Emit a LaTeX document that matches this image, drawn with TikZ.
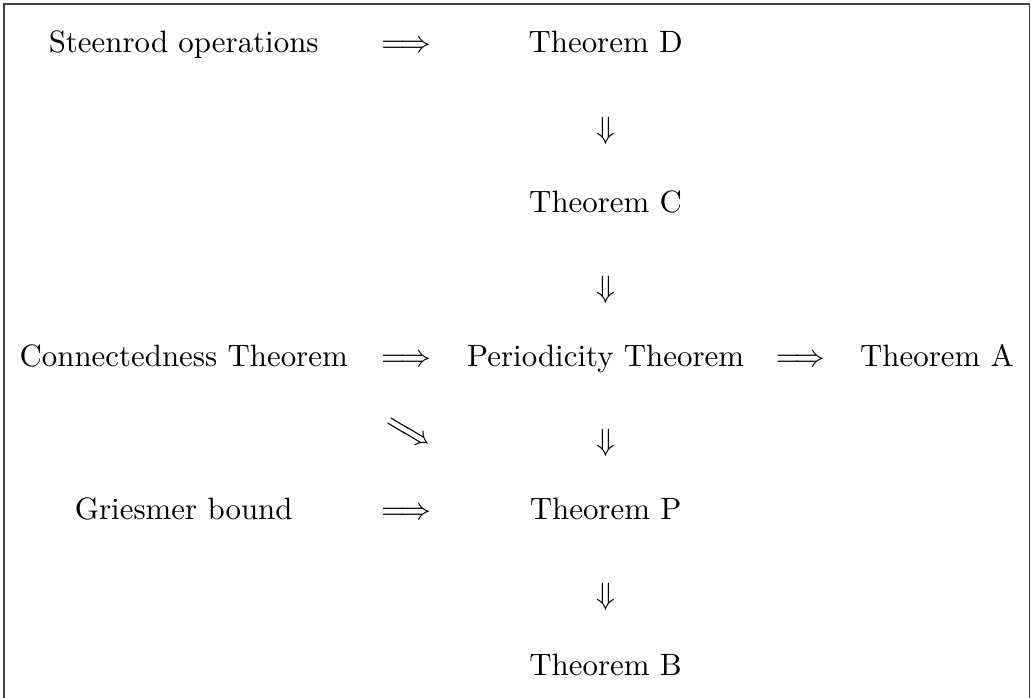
\documentclass[tikz,border=0pt]{standalone}
\usepackage{amsmath,amssymb}
\begin{document}
\begin{tikzpicture}[every node/.style={inner sep=0pt}]
\useasboundingbox (0,0) rectangle (11.73,-7.94);
\draw[black!75] (0.045,-7.94) -- (0.045,-0.045) -- (11.715,-0.045) -- (11.715,-7.94);
% left column
\node[anchor=base] (steenrod) at (2.09,-0.60) {Steenrod operations};
\node[anchor=base] (connect) at (2.09,-4.17) {Connectedness Theorem};
\node[anchor=base] (griesmer) at (2.09,-5.91) {Griesmer bound};
% middle column
\node[anchor=base] (thmD) at (6.89,-0.60) {Theorem D};
\node[anchor=base] (thmC) at (6.89,-2.42) {Theorem C};
\node[anchor=base] (period) at (6.89,-4.17) {Periodicity Theorem};
\node[anchor=base] (thmP) at (6.89,-5.91) {Theorem P};
\node[anchor=base] (thmB) at (6.89,-7.68) {Theorem B};
\node[anchor=base] (thmA) at (10.66,-4.17) {Theorem A};
% implications
\node[anchor=base] (stToD) at (4.62,-0.60) {$\Longrightarrow$};
\node[anchor=base] (coToPe) at (4.62,-4.17) {$\Longrightarrow$};
\node[anchor=base] (grToP) at (4.62,-5.91) {$\Longrightarrow$};
\node[anchor=base] (peToA) at (9.11,-4.17) {$\Longrightarrow$};
\node[rotate=-31] (coToP) at (4.64,-4.94) {$\Longrightarrow$};
\node (dToC) at (6.89,-1.49) {$\Downarrow$};
\node (cToPe) at (6.89,-3.30) {$\Downarrow$};
\node (peToP) at (6.89,-5.04) {$\Downarrow$};
\node (pToB) at (6.89,-6.79) {$\Downarrow$};
\end{tikzpicture}
\end{document}
